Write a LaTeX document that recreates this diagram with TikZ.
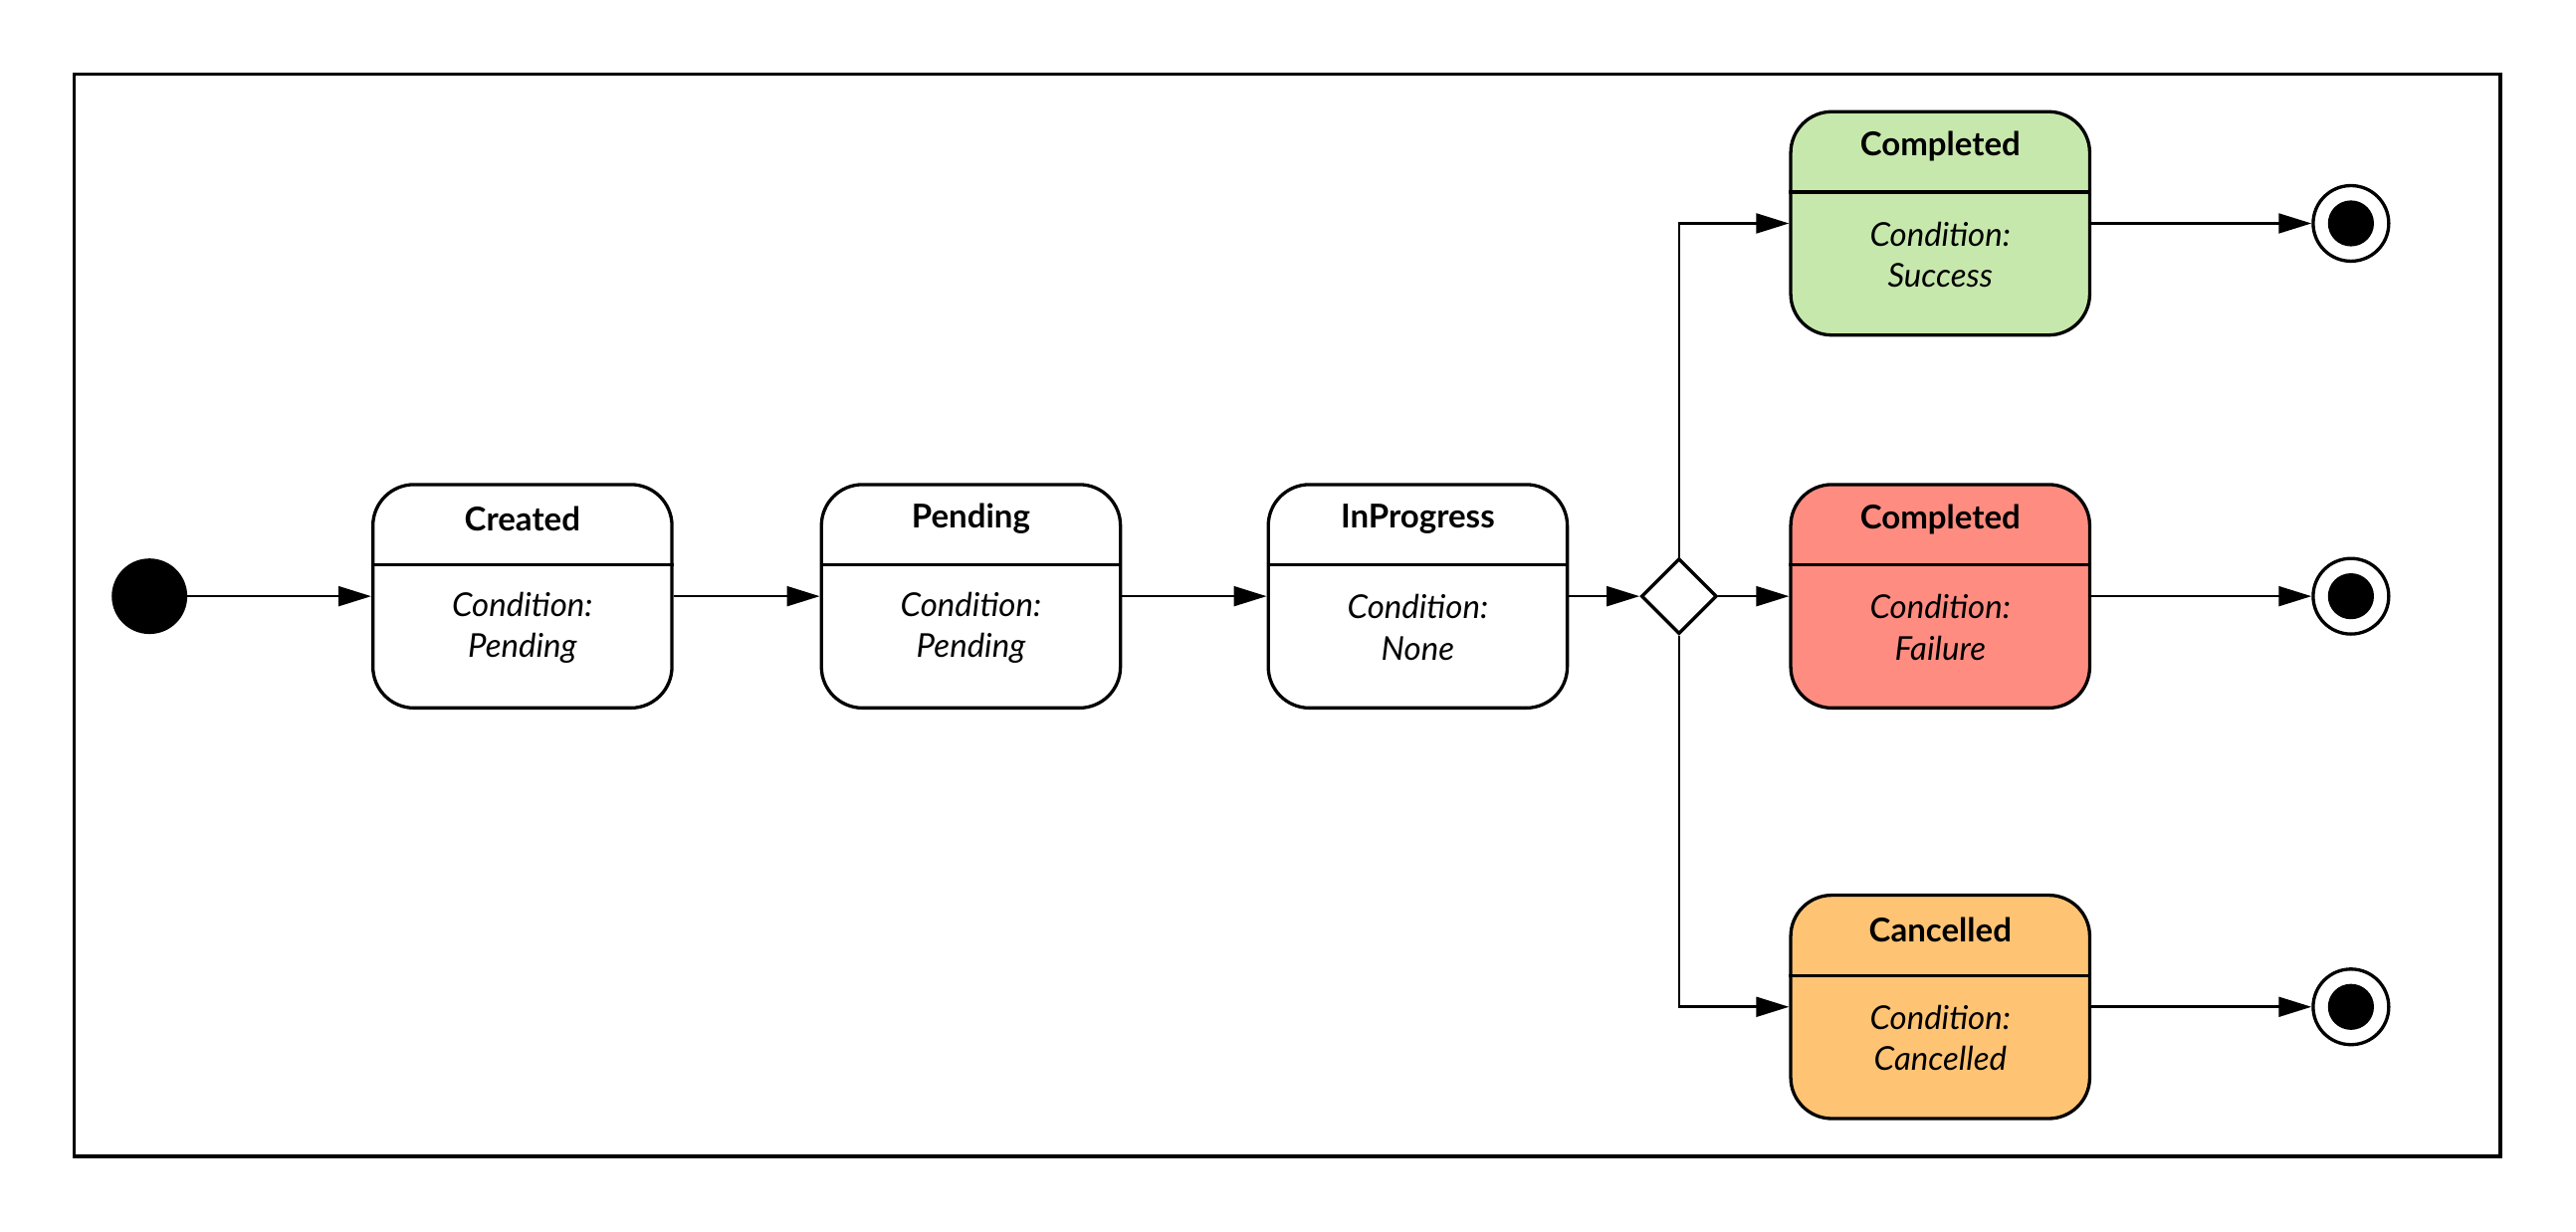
\documentclass[tikz,border=0pt]{standalone}
\usepackage{fontspec}
\setmainfont{Lato}
\usetikzlibrary{arrows.meta,shapes.geometric}
\definecolor{cgreen}{HTML}{C7E8AC}
\definecolor{cred}{HTML}{FF8C80}
\definecolor{corange}{HTML}{FFC374}
\tikzset{
  statebox/.style={draw,line width=2pt,rounded corners=25pt,minimum width=182pt,minimum height=136pt,inner sep=0pt},
  conn/.style={line width=1.6pt,-{Triangle[length=20pt,width=12pt]}},
  ttl/.style={font=\fontsize{20}{24}\selectfont\bfseries},
  cond/.style={font=\fontsize{20}{25}\selectfont\itshape,align=center},
  endc/.style={circle,draw,line width=2pt,minimum size=46pt,inner sep=0pt,fill=white},
}
\newcommand{\mkstate}[5]{% name, x, y, fill, title, cond in #5? 
  \node[statebox,fill=#4] (#1) at (#2,#3) {};
  \draw[line width=2pt] ([yshift=-50pt]#1.north west) -- ([yshift=-50pt]#1.north east);
  \node[ttl] (#1t) at ([yshift=-22pt]#1.north) {#5};
}
\begin{document}
\begin{tikzpicture}[x=1pt,y=-1pt]
\useasboundingbox (0,0) rectangle (1568,750);
\draw[line width=2pt] (45,45) rectangle (1522,704);
\node[circle,fill=black,minimum size=46pt,inner sep=0pt] (start) at (91,363) {};
\mkstate{s1}{318}{363}{white}{Created}
\node[cond] (s1c) at ([yshift=-88pt]s1.north) {Condition:\\Pending};
\mkstate{s2}{591}{363}{white}{Pending}
\node[cond] (s2c) at ([yshift=-88pt]s2.north) {Condition:\\Pending};
\mkstate{s3}{863}{363}{white}{InProgress}
\node[cond] (s3c) at ([yshift=-88pt]s3.north) {Condition:\\None};
\node[diamond,draw,line width=2pt,fill=white,minimum size=46pt,inner sep=0pt] (d) at (1022,363) {};
\mkstate{g}{1181}{136}{cgreen}{Completed}
\node[cond] (gc) at ([yshift=-88pt]g.north) {Condition:\\Success};
\mkstate{r}{1181}{363}{cred}{Completed}
\node[cond] (rc) at ([yshift=-88pt]r.north) {Condition:\\Failure};
\mkstate{o}{1181}{613}{corange}{Cancelled}
\node[cond] (oc) at ([yshift=-88pt]o.north) {Condition:\\Cancelled};
\foreach \n/\y in {e1/136,e2/363,e3/613}{
  \node[endc] (\n) at (1431,\y) {};
  \node[circle,fill=black,minimum size=28pt,inner sep=0pt] at (\n) {};
}
\draw[conn] (start) -- (s1);
\draw[conn] (s1) -- (s2);
\draw[conn] (s2) -- (s3);
\draw[conn] (s3) -- (d);
\draw[conn] (d) -- (r);
\draw[conn] (d.north) |- (g.west);
\draw[conn] (d.south) |- (o.west);
\draw[conn] (g) -- (e1);
\draw[conn] (r) -- (e2);
\draw[conn] (o) -- (e3);
\end{tikzpicture}
\end{document}
